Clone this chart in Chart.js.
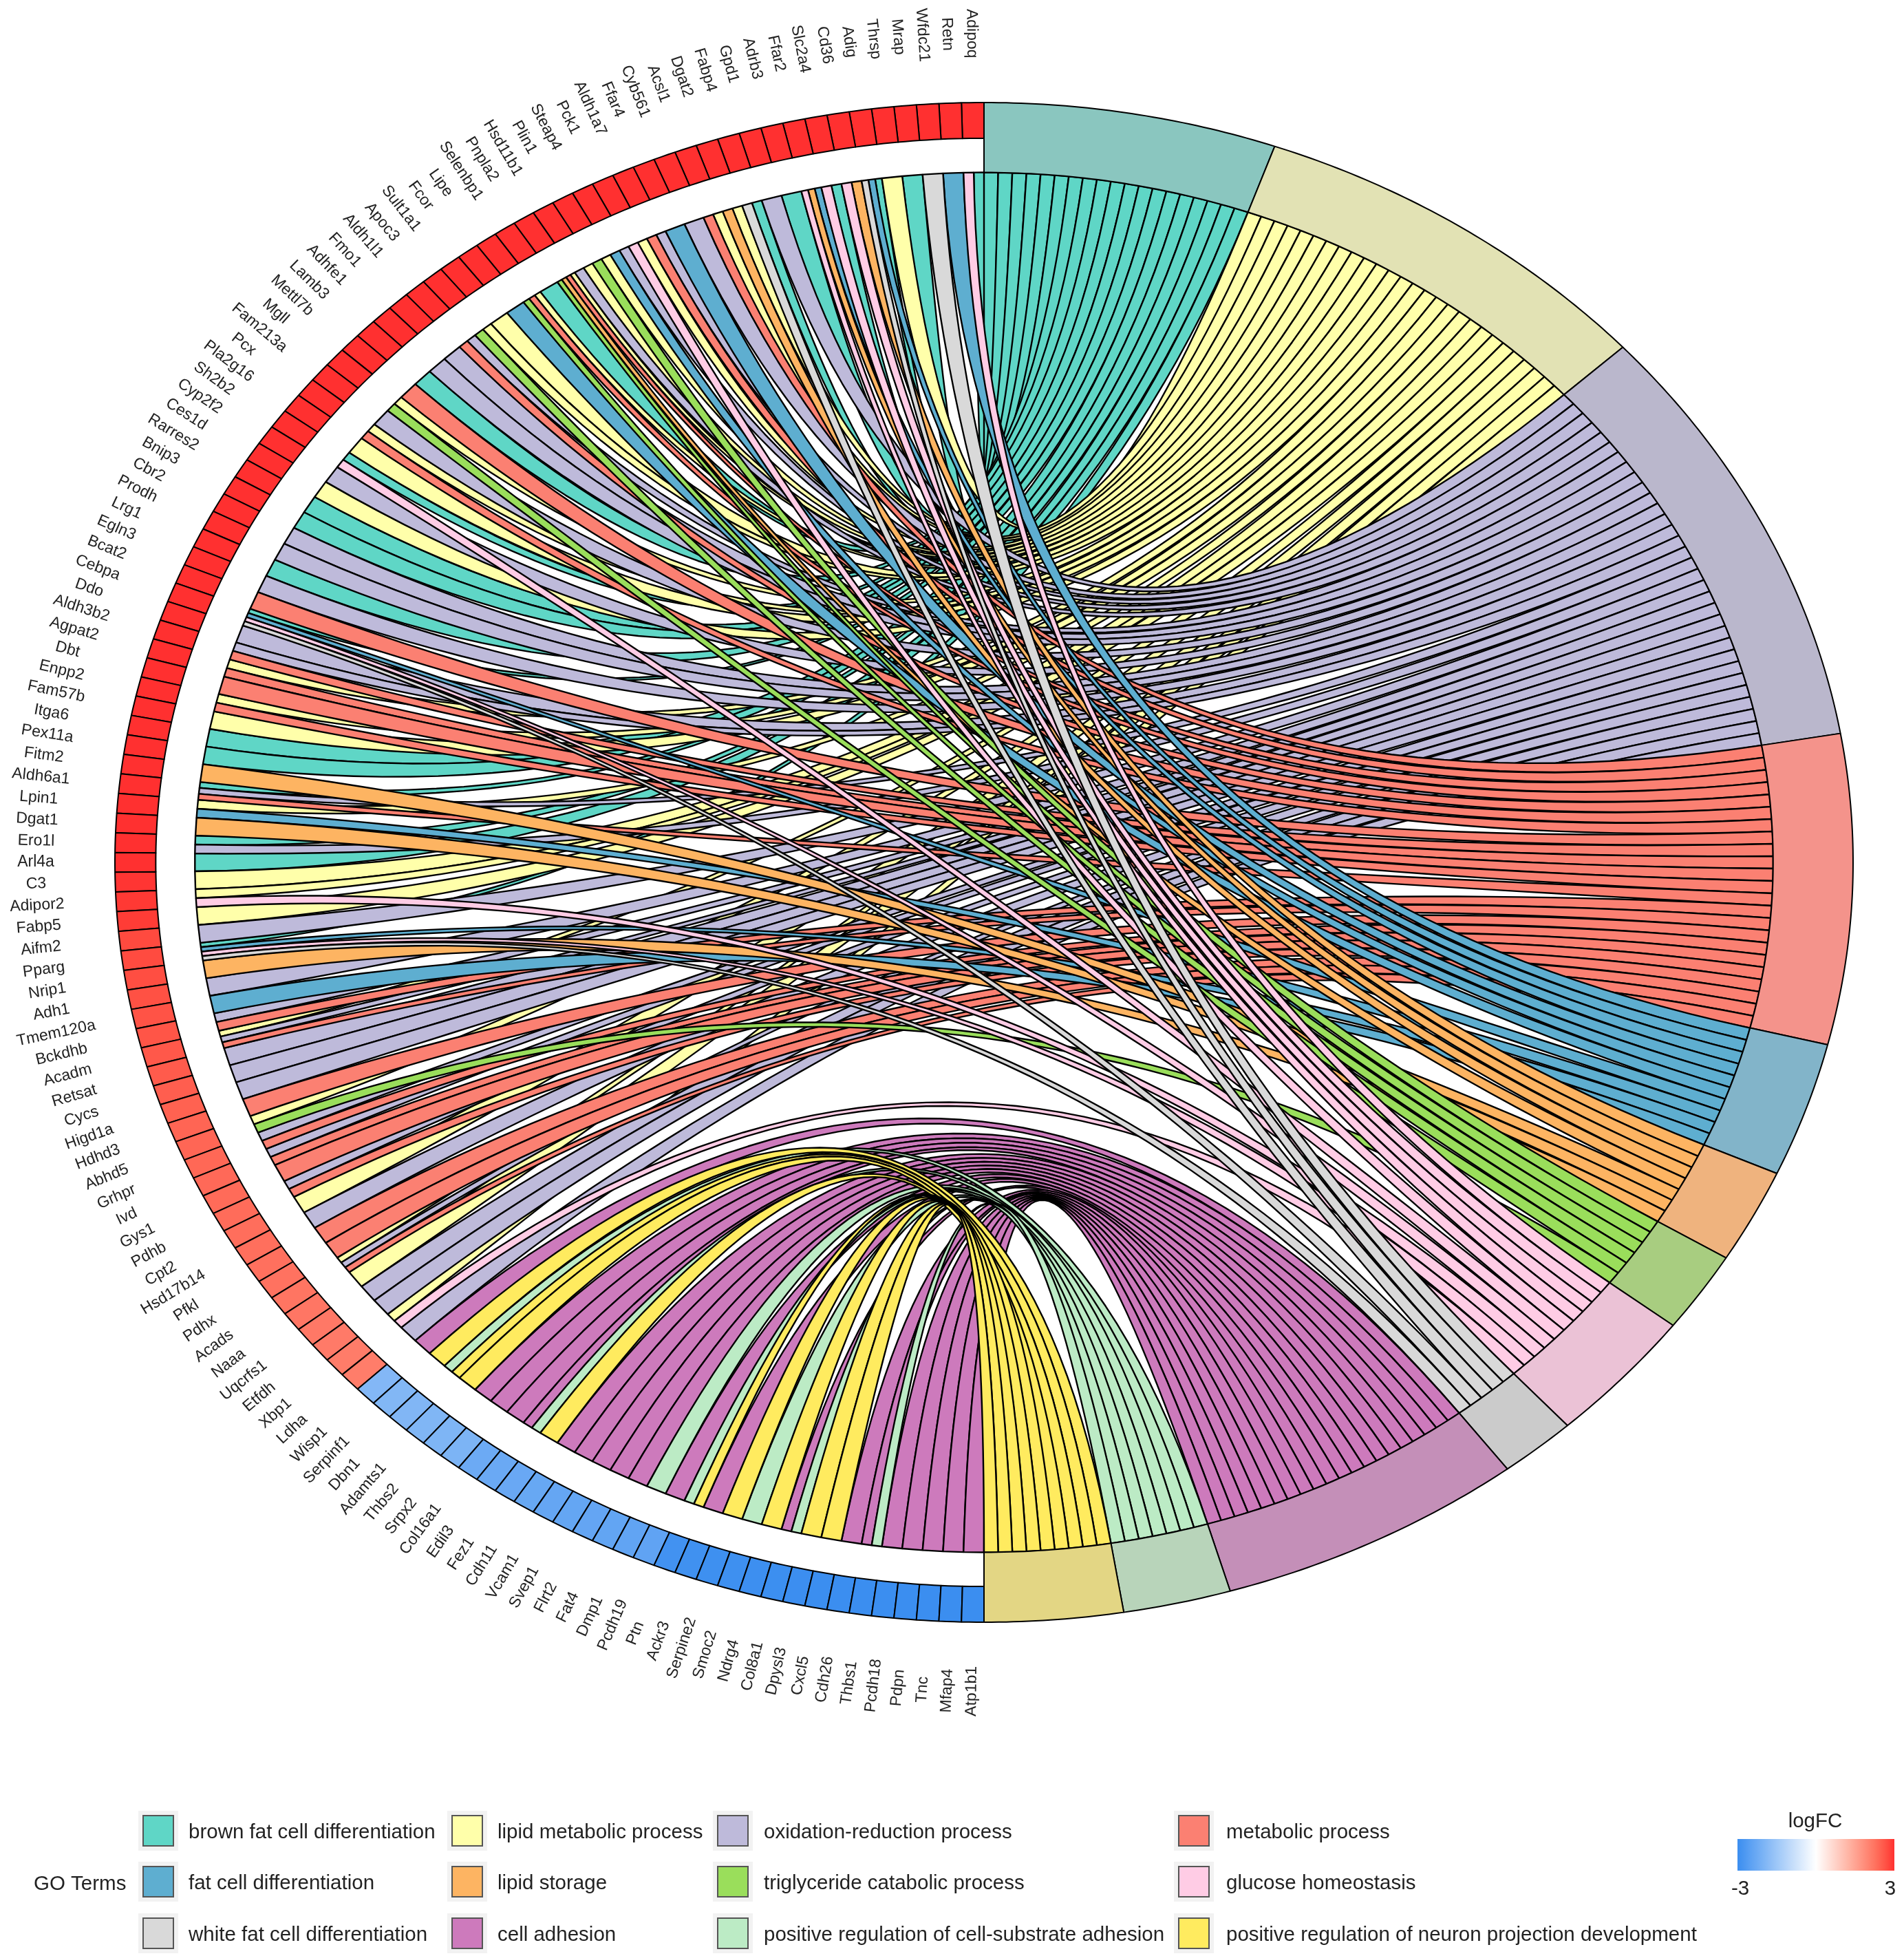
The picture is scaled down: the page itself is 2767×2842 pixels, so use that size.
<!DOCTYPE html>
<html><head><meta charset="utf-8">
<style>html,body{margin:0;padding:0;background:#fff}canvas{display:block}</style>
<script src="https://cdn.jsdelivr.net/npm/chart.js@4/dist/chart.umd.js"></script>
</head><body><canvas id="c" width="2767" height="2842"></canvas>
<script>
const terms = ["brown fat cell differentiation","lipid metabolic process","oxidation-reduction process","metabolic process","fat cell differentiation","lipid storage","triglyceride catabolic process","glucose homeostasis","white fat cell differentiation","cell adhesion","positive regulation of cell-substrate adhesion","positive regulation of neuron projection development"];
const ribbonColors = ["#5FD6C6","#FFFFAA","#BEBADA","#FB8072","#5EAED0","#FDB462","#9ADE5B","#FFCCE5","#D9D9D9","#CD7ABC","#BCEBC5","#FFEB5F"];
const sectorColors = ["#8AC6BF","#E2E2B4","#BAB7CC","#F4938B","#82B4C9","#EFB37E","#A8CD80","#EBC2D6","#CBCBCB","#C48FB8","#B8D4BA","#E3D684"];
const genes = ["Adipoq","Retn","Wfdc21","Mrap","Thrsp","Adig","Cd36","Slc2a4","Ffar2","Adrb3","Gpd1","Fabp4","Dgat2","Acsl1","Cyb561","Ffar4","Aldh1a7","Pck1","Steap4","Plin1","Hsd11b1","Pnpla2","Selenbp1","Lipe","Fcor","Sult1a1","Apoc3","Aldh1l1","Fmo1","Adhfe1","Lamb3","Mettl7b","Mgll","Fam213a","Pcx","Pla2g16","Sh2b2","Cyp2f2","Ces1d","Rarres2","Bnip3","Cbr2","Prodh","Lrg1","Egln3","Bcat2","Cebpa","Ddo","Aldh3b2","Agpat2","Dbt","Enpp2","Fam57b","Itga6","Pex11a","Fitm2","Aldh6a1","Lpin1","Dgat1","Ero1l","Arl4a","C3","Adipor2","Fabp5","Aifm2","Pparg","Nrip1","Adh1","Tmem120a","Bckdhb","Acadm","Retsat","Cycs","Higd1a","Hdhd3","Abhd5","Grhpr","Ivd","Gys1","Pdhb","Cpt2","Hsd17b14","Pfkl","Pdhx","Acads","Naaa","Uqcrfs1","Etfdh","Xbp1","Ldha","Wisp1","Serpinf1","Dbn1","Adamts1","Thbs2","Srpx2","Col16a1","Edil3","Fez1","Cdh11","Vcam1","Svep1","Flrt2","Fat4","Dmp1","Pcdh19","Ptn","Ackr3","Serpine2","Smoc2","Ndrg4","Col8a1","Dpysl3","Cxcl5","Cdh26","Thbs1","Pcdh18","Pdpn","Tnc","Mfap4","Atp1b1"];
const geneTerms = [[0,7],[4],[8],[0],[1],[0,4,8],[5,7],[0,7],[4,5,7],[0],[2],[0,8],[1,5],[1,3],[2],[4],[2,3],[1,7],[2,4],[1,6],[1,2],[1,3,5,6],[0],[1,3,6],[4],[1],[1,6],[2,3],[2],[2],[0],[3],[1,6],[2],[1,3],[1],[0,7],[2],[1],[0],[0],[2],[2],[0],[2],[3],[0,4,7,8],[2],[2,3],[1,3],[3],[1,3],[1],[0],[0],[5],[0,2,3],[1,4],[5],[0,2],[0],[1],[1,7],[1],[2],[0,4,7,8],[5],[2],[4],[2,3],[1,2,3],[2],[2],[2],[3],[1,6],[2,3],[2,3],[3],[2,3],[1],[2],[3],[3],[1,2,3],[1],[2],[2],[1,7],[2],[9],[11],[10,11],[11],[9],[9],[9],[9,10],[11],[9],[9],[9],[9],[9],[10],[9],[10,11],[9],[11],[10],[11],[9,10],[11],[11],[9],[9,10],[9],[9],[9],[9],[9]];
const logFC = [3,3,3,3,3,3,3,3,3,3,3,3,3,3,3,3,3,3,3,3,3,3,3,3,3,3,3,3,3,3,3,3,3,3,3,3,3,3,3,3,3,3,3,3,3,3,3,3,3,3,3,3,3,3,3,3,3,3,3,3,3,2.96,2.93,2.9,2.76,2.75,2.72,2.68,2.66,2.64,2.6,2.56,2.52,2.48,2.44,2.42,2.4,2.38,2.36,2.34,2.32,2.3,2.28,2.26,2.22,2.2,2.17,2.14,2.12,2.1,-1.9,-1.92,-1.93,-1.95,-1.97,-2,-2.25,-2.28,-2.3,-2.32,-2.35,-2.37,-2.38,-2.4,-2.42,-2.44,-2.9,-2.92,-2.95,-2.96,-2.97,-2.98,-2.99,-3,-3,-3,-3,-3,-3,-3,-3];
const legendColumn = [0,1,2,3,0,1,2,3,0,1,2,3];
const legendRow = [0,0,0,0,1,1,1,1,2,2,2,2];
const scaleLow = [59,142,240], scaleMid = [255,255,255], scaleHigh = [255,48,48];

function rgb2lab(c){
  const f=v=>{v/=255;return v>0.04045?Math.pow((v+0.055)/1.055,2.4):v/12.92};
  const [r,g,b]=c.map(f);
  const g3=t=>t>0.008856?Math.cbrt(t):7.787*t+16/116;
  const x=g3((0.4124*r+0.3576*g+0.1805*b)/0.95047),y=g3(0.2126*r+0.7152*g+0.0722*b),z=g3((0.0193*r+0.1192*g+0.9505*b)/1.08883);
  return [116*y-16,500*(x-y),200*(y-z)];
}
function lab2rgb(l){
  const fy=(l[0]+16)/116,fx=l[1]/500+fy,fz=fy-l[2]/200;
  const h=t=>{const c=t*t*t;return c>0.008856?c:(t-16/116)/7.787};
  const X=h(fx)*0.95047,Y=h(fy),Z=h(fz)*1.08883;
  const lin=[3.2406*X-1.5372*Y-0.4986*Z,-0.9689*X+1.8758*Y+0.0415*Z,0.0557*X-0.204*Y+1.057*Z];
  const u=v=>{v=Math.max(0,Math.min(1,v));return Math.round(255*(v>0.0031308?1.055*Math.pow(v,1/2.4)-0.055:12.92*v))};
  return 'rgb('+lin.map(u).join(',')+')';
}
function fcColor(v){
  v=Math.max(-3,Math.min(3,v));
  const t=Math.abs(v)/3;
  if(v<0) return 'rgb('+scaleLow.map((e,i)=>Math.round(scaleMid[i]+(e-scaleMid[i])*t)).join(',')+')';
  const end=rgb2lab(scaleHigh),mid=rgb2lab(scaleMid);
  return lab2rgb(mid.map((m,i)=>m+(end[i]-m)*t));
}

const R_OUT=1, R_GENE=0.953, R_RIB=0.908, R_LABEL=1.091;
const rad=d=>d*Math.PI/180;
const ptTerm=(deg,r)=>({x:r*Math.sin(rad(deg)),y:r*Math.cos(rad(deg))});   // clockwise from the top
const ptGene=(deg,r)=>({x:-r*Math.sin(rad(deg)),y:r*Math.cos(rad(deg))});  // anticlockwise from the top
function arc(fn,a,b,r){const n=Math.max(2,Math.ceil(Math.abs(b-a)/0.5));const o=[];for(let i=0;i<=n;i++)o.push(fn(a+(b-a)*i/n,r));return o;}
function closed(p){p.push({x:p[0].x,y:p[0].y});return p;}
function shape(points,fill,width){
  return {type:'scatter',data:points,showLine:true,fill:'shape',backgroundColor:fill,borderColor:'#000',borderWidth:width,
    borderJoinStyle:'round',borderDash:[100000],pointRadius:0,pointHoverRadius:0,clip:false};
}

const geneStep=180/genes.length;
const counts=terms.map((_,t)=>geneTerms.filter(g=>g.includes(t)).length);
const total=counts.reduce((a,b)=>a+b,0);
const termStep=180/total;
const termStart=[];counts.reduce((s,c,i)=>{termStart[i]=s;return s+c*termStep},0);

function curve(g,t){ // quadratic bezier whose control point is the centre of the circle
  const o=[];for(let k=0;k<=50;k++){const u=k/50;const a=(1-u)*(1-u),b=u*u;o.push({x:a*g.x+b*t.x,y:a*g.y+b*t.y});}
  return o;
}
const paint=[];
terms.forEach((_,t)=>{
  let k=0;
  genes.forEach((_,i)=>{
    const list=geneTerms[i],j=list.indexOf(t);
    if(j<0)return;
    const w=geneStep/list.length;
    const g1=i*geneStep+j*w,g2=g1+w;
    const t1=termStart[t]+k*termStep,t2=t1+termStep;k++;
    const a=curve(ptGene(g1,R_RIB),ptTerm(t1,R_RIB));
    const b=curve(ptGene(g2,R_RIB),ptTerm(t2,R_RIB)).reverse();
    paint.push(shape(closed(a.concat(b)),ribbonColors[t],2.4));
  });
});
terms.forEach((_,t)=>{
  const a=termStart[t],b=a+counts[t]*termStep;
  paint.push(shape(closed(arc(ptTerm,a,b,R_OUT).concat(arc(ptTerm,b,a,R_RIB))),sectorColors[t],2));
});
genes.forEach((_,i)=>{
  const a=i*geneStep,b=a+geneStep;
  paint.push(shape(closed(arc(ptGene,a,b,R_OUT).concat(arc(ptGene,b,a,R_GENE))),fcColor(logFC[i]),2));
});

const textPlugin={id:'text',afterDraw(chart){
  const c=chart.ctx,xs=chart.scales.x,ys=chart.scales.y;
  c.save();
  c.fillStyle='#222';c.textAlign='center';c.textBaseline='middle';c.font='23px "Liberation Sans"';
  genes.forEach((g,i)=>{
    const m=(i+0.5)*geneStep,p=ptGene(m,R_LABEL);
    c.save();c.translate(xs.getPixelForValue(p.x),ys.getPixelForValue(p.y));c.rotate(rad(90-m));c.fillText(g,0,0);c.restore();
  });
  c.font='29.5px "Liberation Sans"';c.textAlign='left';
  c.fillText('GO Terms',49,2738);
  const boxX=[201,650,1036,1706],textX=[274,723,1110,1782],rowY=[2660,2734,2809];
  terms.forEach((t,i)=>{
    const bx=boxX[legendColumn[i]],tx=textX[legendColumn[i]],y=rowY[legendRow[i]];
    c.fillStyle='#F2F2F2';c.fillRect(bx,y-29,58,58);
    c.fillStyle=ribbonColors[i];c.fillRect(bx+7,y-22,44,44);
    c.strokeStyle='#555';c.lineWidth=2;c.strokeRect(bx+7,y-22,44,44);
    c.fillStyle='#222';c.fillText(t,tx,y+3);
  });
  c.textAlign='center';
  c.fillText('logFC',2638,2647);
  c.fillText('-3',2529,2745);
  c.fillText('3',2747,2745);
  const gr=c.createLinearGradient(2525,0,2753,0);
  for(let v=-3;v<=3;v+=0.25)gr.addColorStop((v+3)/6,fcColor(v));
  c.fillStyle=gr;c.fillRect(2525,2672,228,46);
  c.restore();
}};

new Chart(document.getElementById('c'),{
  type:'scatter',
  data:{datasets:paint.slice().reverse()},
  options:{responsive:false,animation:false,events:[],
    layout:{padding:0},
    plugins:{legend:{display:false},tooltip:{enabled:false},title:{display:false}},
    scales:{
      x:{type:'linear',display:false,min:-1430/1263,max:(2767-1430)/1263},
      y:{type:'linear',display:false,min:-(2842-1253)/1104,max:1253/1104}
    }},
  plugins:[textPlugin]
});
</script></body></html>
